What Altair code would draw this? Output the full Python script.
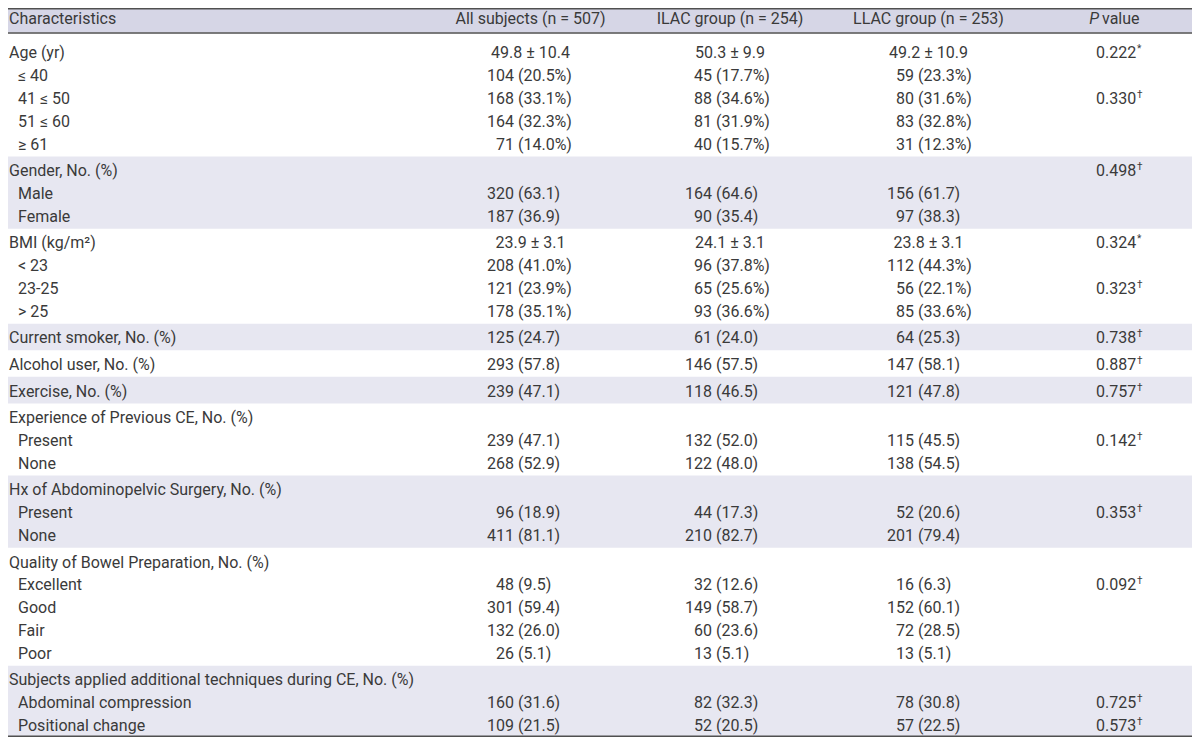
import altair as alt
import pandas as pd

# ---------------- data ----------------
header_cols = ["Characteristics", "All subjects (n = 507)", "ILAC group (n = 254)", "LLAC group (n = 253)"]
p_header = ["P", "value"]

labels = [
    "Age (yr)", " ≤ 40", "41 ≤ 50", "51 ≤ 60", " ≥ 61",
    "Gender, No. (%)", "Male", "Female",
    "BMI (kg/m²)", " < 23", "23-25", " > 25",
    "Current smoker, No. (%)",
    "Alcohol user, No. (%)",
    "Exercise, No. (%)",
    "Experience of Previous CE, No. (%)", "Present", "None",
    "Hx of Abdominopelvic Surgery, No. (%)", "Present", "None",
    "Quality of Bowel Preparation, No. (%)", "Excellent", "Good", "Fair", "Poor",
    "Subjects applied additional techniques during CE, No. (%)", "Abdominal compression", "Positional change",
]
is_sub = [0, 1, 1, 1, 1,
          0, 1, 1,
          0, 1, 1, 1,
          0,
          0,
          0,
          0, 1, 1,
          0, 1, 1,
          0, 1, 1, 1, 1,
          0, 1, 1]
all_vals = [
    "49.8 ± 10.4", "104 (20.5%)", "168 (33.1%)", "164 (32.3%)", "71 (14.0%)",
    "", "320 (63.1)", "187 (36.9)",
    "23.9 ± 3.1", "208 (41.0%)", "121 (23.9%)", "178 (35.1%)",
    "125 (24.7)",
    "293 (57.8)",
    "239 (47.1)",
    "", "239 (47.1)", "268 (52.9)",
    "", "96 (18.9)", "411 (81.1)",
    "", "48 (9.5)", "301 (59.4)", "132 (26.0)", "26 (5.1)",
    "", "160 (31.6)", "109 (21.5)",
]
ilac_vals = [
    "50.3 ± 9.9", "45 (17.7%)", "88 (34.6%)", "81 (31.9%)", "40 (15.7%)",
    "", "164 (64.6)", "90 (35.4)",
    "24.1 ± 3.1", "96 (37.8%)", "65 (25.6%)", "93 (36.6%)",
    "61 (24.0)",
    "146 (57.5)",
    "118 (46.5)",
    "", "132 (52.0)", "122 (48.0)",
    "", "44 (17.3)", "210 (82.7)",
    "", "32 (12.6)", "149 (58.7)", "60 (23.6)", "13 (5.1)",
    "", "82 (32.3)", "52 (20.5)",
]
llac_vals = [
    "49.2 ± 10.9", "59 (23.3%)", "80 (31.6%)", "83 (32.8%)", "31 (12.3%)",
    "", "156 (61.7)", "97 (38.3)",
    "23.8 ± 3.1", "112 (44.3%)", "56 (22.1%)", "85 (33.6%)",
    "64 (25.3)",
    "147 (58.1)",
    "121 (47.8)",
    "", "115 (45.5)", "138 (54.5)",
    "", "52 (20.6)", "201 (79.4)",
    "", "16 (6.3)", "152 (60.1)", "72 (28.5)", "13 (5.1)",
    "", "78 (30.8)", "57 (22.5)",
]
p_vals = [
    "0.222", "", "0.330", "", "",
    "0.498", "", "",
    "0.324", "", "0.323", "",
    "0.738",
    "0.887",
    "0.757",
    "", "0.142", "",
    "", "0.353", "",
    "", "0.092", "", "", "",
    "", "0.725", "0.573",
]
p_marks = [
    "*", "", "†", "", "",
    "†", "", "",
    "*", "", "†", "",
    "†",
    "†",
    "†",
    "", "†", "",
    "", "†", "",
    "", "†", "", "", "",
    "", "†", "†",
]

# ---------------- layout ----------------
W, H = 1184, 729
X0 = 8
FONT = "Roboto"
FS = 16
TXT = "#3a3a3a"
LINE = "#505050"
HEAD_BG = "#d6d6e6"
BAND_BG = "#e7e7f1"

# vertical mapping (reference pixel units -> plot), slightly compressed to fit the page
YA, YB = 7.17, 742.26

X_LABEL, X_SUB = 9, 18
col_start = [487, 685, 887]
col_center = [530.5, 730, 928.5]
DIGIT = 9
X_P = 1096
X_PMARK = 1137

xs = alt.Scale(domain=[X0, X0 + W], range=[0, W])
ys = alt.Scale(domain=[YA, YB], range=[0, H])

def clamp_y(v):
    return min(max(v, YA + 0.8), YB - 0.8)

rows = []
g = -1
for i, lab in enumerate(labels):
    if is_sub[i] == 0:
        g += 1
    base = 58 + 23 * i + 3.8 * g
    rows.append(dict(i=i, g=g, base=base, label=lab, sub=is_sub[i]))
rdf = pd.DataFrame(rows)

# bands
head_band = pd.DataFrame([dict(top=YA, bot=32)])
bands = []
for gid, sub in rdf.groupby("g"):
    if gid % 2 == 1:
        bands.append(dict(top=sub.base.min() - 19.9, bot=min(sub.base.max() + 6.9, YB)))
row_bands = pd.DataFrame(bands)

band_layer = alt.Chart(row_bands).mark_rect(color=BAND_BG).encode(
    x=alt.value(0), x2=alt.value(W),
    y=alt.Y("top:Q", scale=ys, axis=None), y2="bot:Q")
head_layer = alt.Chart(head_band).mark_rect(color=HEAD_BG).encode(
    x=alt.value(0), x2=alt.value(W),
    y=alt.Y("top:Q", scale=ys, axis=None), y2="bot:Q")

rules = pd.DataFrame(dict(y=[clamp_y(1), 32.5, clamp_y(743)]))
rule_layer = alt.Chart(rules).mark_rule(color=LINE, strokeWidth=1.5).encode(
    x=alt.value(0), x2=alt.value(W), y=alt.Y("y:Q", scale=ys, axis=None))

def text_layer(df, align, **kw):
    return alt.Chart(df).mark_text(align=align, baseline="alphabetic", font=FONT,
                                   fontSize=kw.pop("fontSize", FS), color=TXT, **kw).encode(
        x=alt.X("x:Q", scale=xs, axis=None),
        y=alt.Y("y:Q", scale=ys, axis=None),
        text="t:N")

# labels
lab_df = pd.DataFrame(dict(t=rdf.label, x=[X_SUB if s else X_LABEL for s in rdf["sub"]], y=rdf.base))

# value cells
left_cells, center_cells = [], []
for c, vals in enumerate([all_vals, ilac_vals, llac_vals]):
    for i, v in enumerate(vals):
        if not v:
            continue
        y = rdf.base[i]
        if "±" in v:
            center_cells.append(dict(t=v, x=col_center[c], y=y))
        else:
            lead = len(v.split(" ")[0])
            left_cells.append(dict(t=v, x=col_start[c] + (3 - lead) * DIGIT, y=y))

p_df = pd.DataFrame([dict(t=v, x=X_P, y=rdf.base[i]) for i, v in enumerate(p_vals) if v])
pm_df = pd.DataFrame([dict(t=v, x=X_PMARK, y=rdf.base[i] - 6) for i, v in enumerate(p_marks) if v])

HB = 23.5
head_left = pd.DataFrame(dict(t=[header_cols[0]], x=[X_LABEL], y=[HB]))
head_center = pd.DataFrame(dict(t=header_cols[1:], x=col_center, y=[HB] * 3))
head_p = pd.DataFrame(dict(t=[p_header[0]], x=[1099], y=[HB]))
head_v = pd.DataFrame(dict(t=[p_header[1]], x=[1102], y=[HB]))

chart = alt.layer(
    head_layer, band_layer, rule_layer,
    text_layer(head_left, "left"),
    text_layer(head_center, "center"),
    text_layer(head_p, "right", fontStyle="italic"),
    text_layer(head_v, "left"),
    text_layer(lab_df, "left"),
    text_layer(pd.DataFrame(left_cells), "left"),
    text_layer(pd.DataFrame(center_cells), "center"),
    text_layer(p_df, "left"),
    text_layer(pm_df, "left", fontSize=10),
).properties(width=W, height=H, padding=0, autosize=alt.AutoSizeParams(type="none")
).configure_view(strokeWidth=0)

chart.save("out.html", embed_options={"renderer": "svg", "actions": False})
